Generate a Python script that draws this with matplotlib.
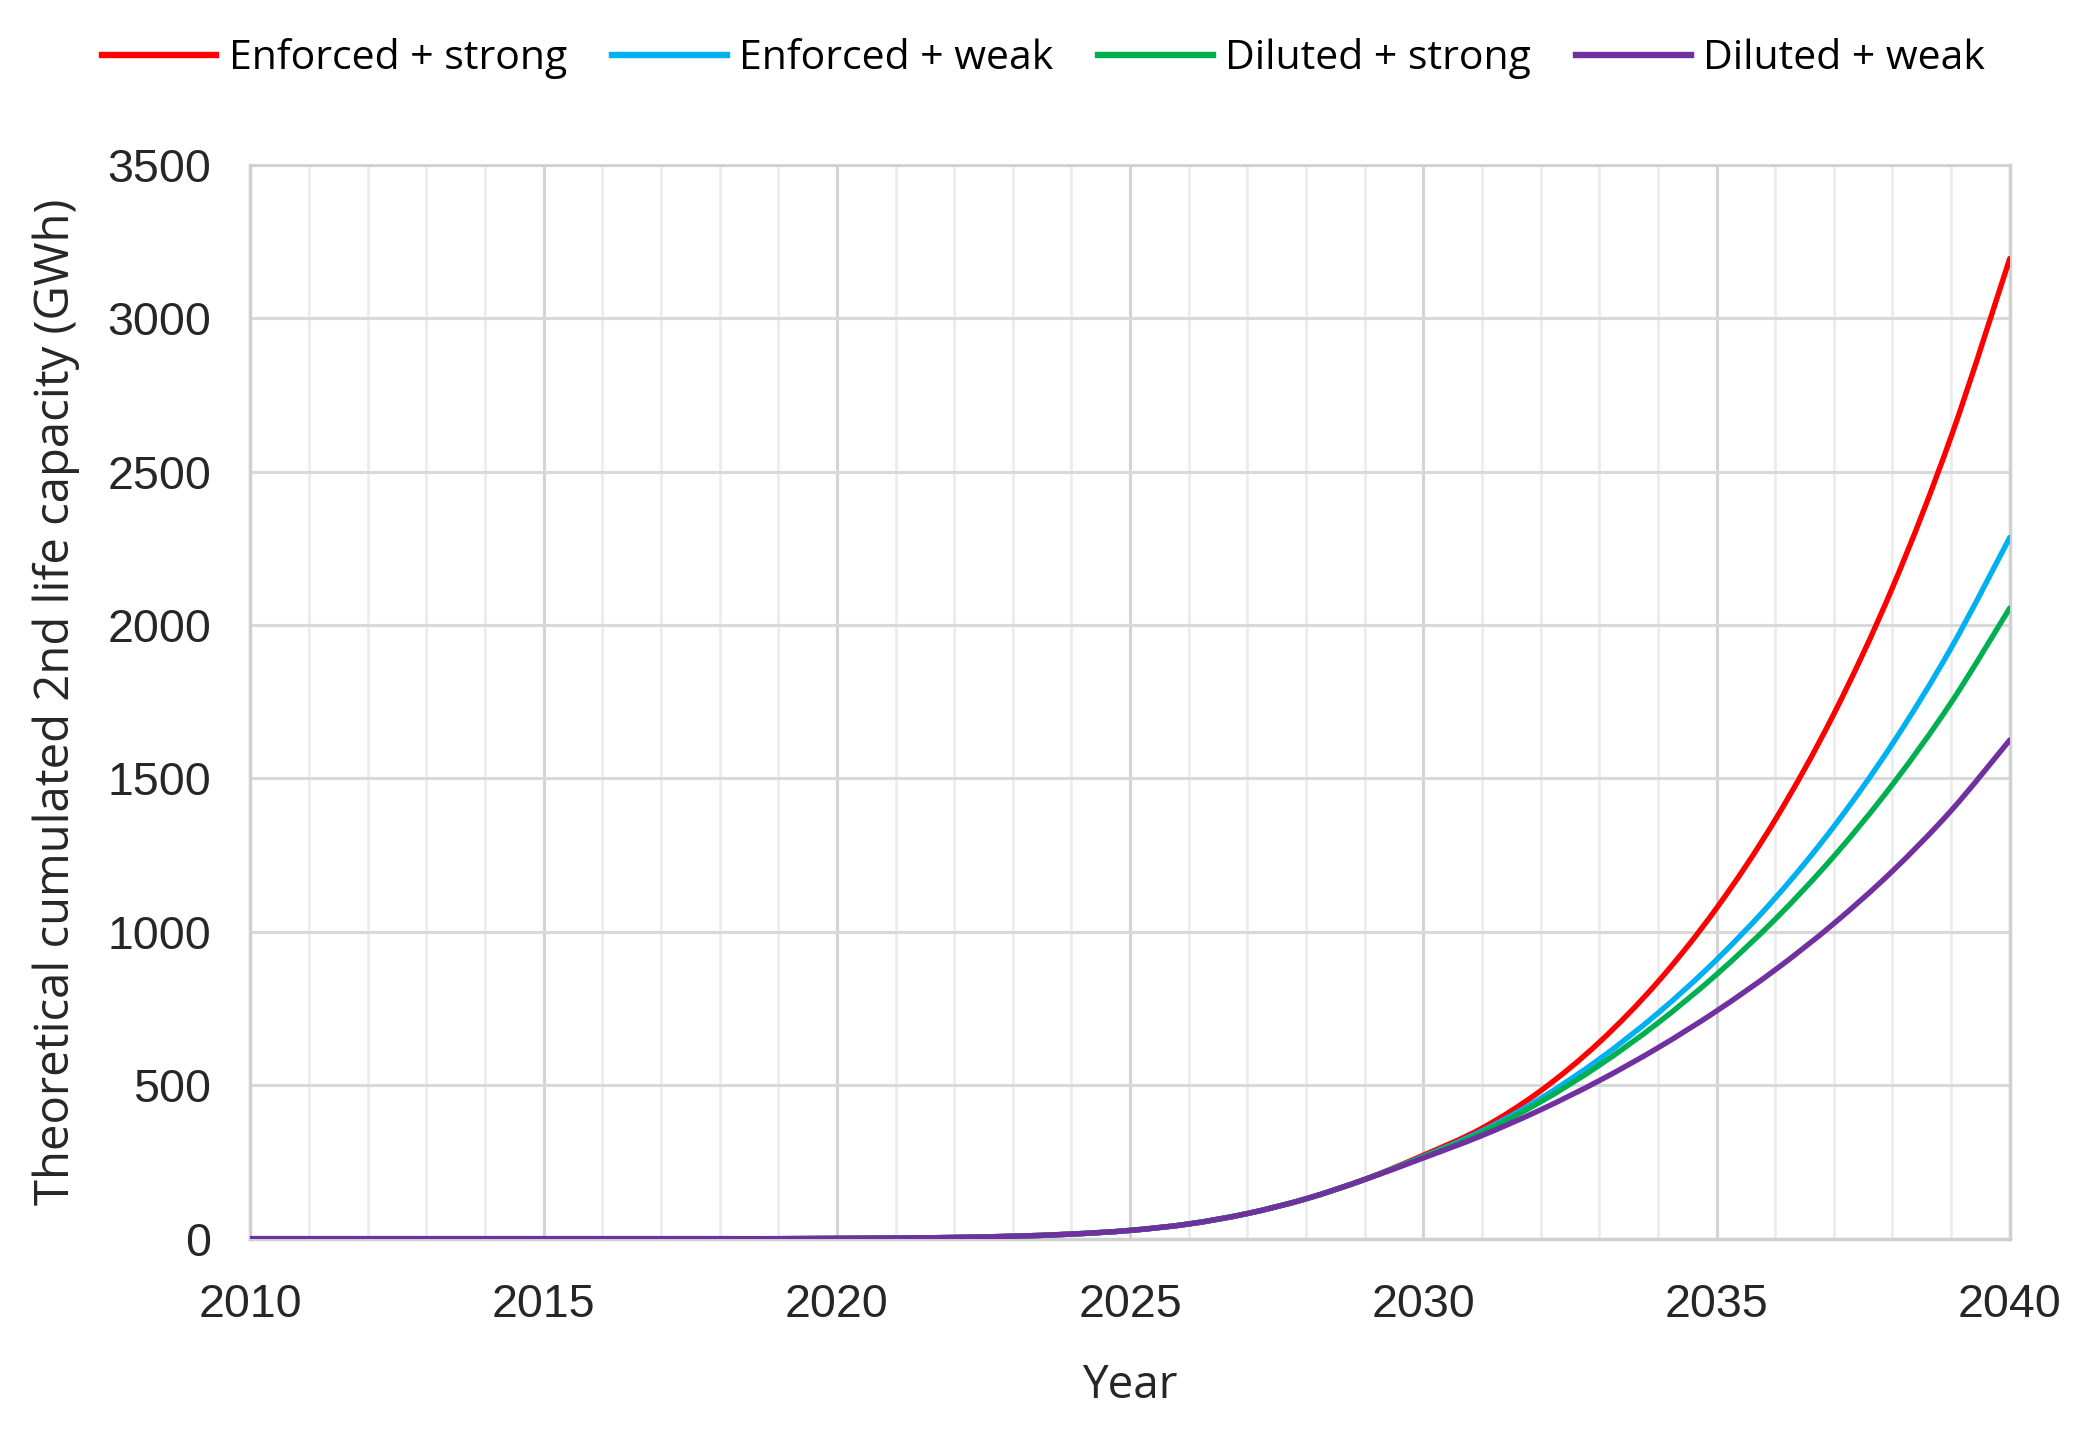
import matplotlib

matplotlib.use("Agg")
import matplotlib.pyplot as plt
from matplotlib.lines import Line2D
from matplotlib.patches import PathPatch
from matplotlib.path import Path
from matplotlib.ticker import MultipleLocator

# Years and cumulated 2nd life capacity (GWh)
years = list(range(2010, 2041))

# 2010-2029: the four scenarios are indistinguishable
common = [0] * 10 + [1, 2, 4, 8, 15, 27, 48, 82, 130, 193]
enforced_strong = common + [272, 360, 482, 640, 837, 1077, 1365, 1710, 2122, 2614, 3194]
enforced_weak = common + [268, 351, 457, 585, 735, 909, 1110, 1343, 1613, 1925, 2285]
diluted_strong = common + [266, 346, 446, 565, 703, 861, 1041, 1246, 1480, 1747, 2055]
diluted_weak = common + [263, 336, 420, 515, 622, 742, 876, 1027, 1198, 1395, 1625]

series = [
    ("Enforced + strong", enforced_strong, "#ff0000"),
    ("Enforced + weak", enforced_weak, "#00b0f0"),
    ("Diluted + strong", diluted_strong, "#00b050"),
    ("Diluted + weak", diluted_weak, "#7030a0"),
]

LABEL_FONT = ["Open Sans", "DejaVu Sans"]
TICK_FONT = ["Liberation Sans", "DejaVu Sans"]


def smooth_path(x, y):
    # Excel-style "smoothed line": Bezier segments through the data points
    verts, codes = [(x[0], y[0])], [Path.MOVETO]
    n = len(x)
    for i in range(n - 1):
        x0, y0 = (x[i - 1], y[i - 1]) if i > 0 else (x[i], y[i])
        x3, y3 = (x[i + 2], y[i + 2]) if i + 2 < n else (x[i + 1], y[i + 1])
        c1 = (x[i] + (x[i + 1] - x0) / 6, y[i] + (y[i + 1] - y0) / 6)
        c2 = (x[i + 1] - (x3 - x[i]) / 6, y[i + 1] - (y3 - y[i]) / 6)
        verts += [c1, c2, (x[i + 1], y[i + 1])]
        codes += [Path.CURVE4] * 3
    return Path(verts, codes)


fig = plt.figure(figsize=(20.87, 14.32), dpi=100)
ax = fig.add_axes([0.120, 0.135, 0.843, 0.750])

handles = []
for label, vals, color in series:
    ax.add_patch(PathPatch(smooth_path(years, vals), fill=False, edgecolor=color,
                           lw=3.9, capstyle="round", joinstyle="round", zorder=3))
    handles.append(Line2D([], [], color=color, lw=4.6, label=label))

ax.set_xlim(2010, 2040)
ax.set_ylim(0, 3500)
ax.xaxis.set_major_locator(MultipleLocator(5))
ax.xaxis.set_minor_locator(MultipleLocator(1))
ax.yaxis.set_major_locator(MultipleLocator(500))

ax.grid(which="major", axis="x", color="#d4d4d4", lw=2.2)
ax.grid(which="minor", axis="x", color="#ececec", lw=2.0)
ax.grid(which="major", axis="y", color="#d9d9d9", lw=2.2)
ax.set_axisbelow(True)

for side in ["left", "bottom", "right", "top"]:
    ax.spines[side].set_color("#d0d0d0")
    ax.spines[side].set_linewidth(2.5)
ax.spines["top"].set_linewidth(2.0)

ax.tick_params(which="both", length=0)
ax.tick_params(axis="x", pad=32)
ax.tick_params(axis="y", pad=28)
for lbl in ax.get_xticklabels() + ax.get_yticklabels():
    lbl.set_fontfamily(TICK_FONT)
    lbl.set_fontsize(33.5)
    lbl.set_color("#262626")

ax.set_xlabel("Year", fontsize=33, family=LABEL_FONT, color="#262626", labelpad=26)
ax.set_ylabel("Theoretical cumulated 2nd life capacity (GWh)", fontsize=34,
              family=LABEL_FONT, color="#262626", labelpad=20)

fig.legend(handles=handles, loc="center", bbox_to_anchor=(0.5, 0.959), ncol=4,
           frameon=False, prop={"family": LABEL_FONT, "size": 29.5},
           handlelength=2.8, handletextpad=0.3, columnspacing=1.1)

fig.savefig("out.png", dpi=100, facecolor="white")
